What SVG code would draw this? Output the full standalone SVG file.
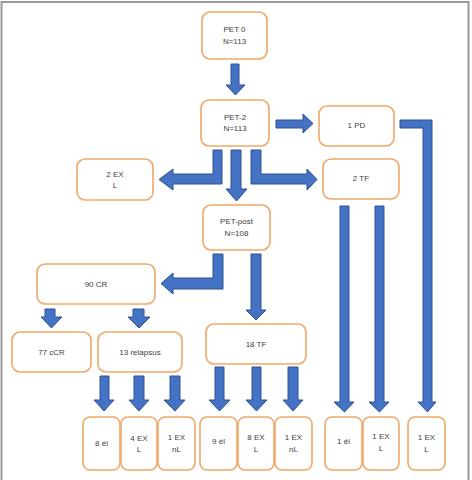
<svg xmlns="http://www.w3.org/2000/svg" width="472" height="480" viewBox="0 0 472 480">
<style>
.box{fill:#fff;stroke:#F0A868;stroke-width:1.6}
.arr{fill:#4472C4;stroke:#2F528F;stroke-width:1;stroke-linejoin:miter}
text{font-family:"Liberation Sans","DejaVu Sans",sans-serif;font-size:8px;fill:#404040;text-anchor:middle}
</style>
<rect x="0" y="0" width="472" height="480" fill="#fff"/>
<rect x="1.5" y="2" width="467" height="490" fill="none" stroke="#999" stroke-width="2"/>
<g id="connectors">
<polygon class="arr" points="231,64 239,64 239,85 245,85 235.5,95 226,85 231,85"/>
<polygon class="arr" points="276,120 303,120 303,114 313,123.5 303,133 303,128 276,128"/>
<polygon class="arr" points="400,120 432,120 432,402 436,402 427.5,412 418,402 423,402 423,128 400,128"/>
<polygon class="arr" points="213,150 222,150 222,184 173,184 173,190 159,179.5 173,169 173,174 213,174"/>
<polygon class="arr" points="231,150 241,150 241,189 247,189 236.5,201 226,189 231,189"/>
<polygon class="arr" points="251,150 261,150 261,174 307,174 307,169 317,179.5 307,190 307,184 251,184"/>
<polygon class="arr" points="213,254 223,254 223,289 173,289 173,294 161,283.5 173,273 173,278 213,278"/>
<polygon class="arr" points="251,254 261,254 261,310 266,310 256,320 246,310 251,310"/>
<polygon class="arr" points="340,206 349,206 349,402 354,402 344.5,412 334,402 340,402"/>
<polygon class="arr" points="375,206 384,206 384,402 389,402 379.5,412 369,402 375,402"/>
<polygon class="arr" points="45,309 55,309 55,317 62,317 51.5,328 41,317 45,317"/>
<polygon class="arr" points="133,309 144,309 144,317 150,317 139,328 128,317 133,317"/>
<polygon class="arr" points="100,376 109,376 109,400 114,400 104,411 94,400 100,400"/>
<polygon class="arr" points="134,376 144,376 144,400 149,400 139,411 129,400 134,400"/>
<polygon class="arr" points="170,376 180,376 180,400 185,400 175,411 164,400 170,400"/>
<polygon class="arr" points="215,367 224,367 224,400 230,400 219.5,411 209,400 215,400"/>
<polygon class="arr" points="252,367 261,367 261,400 267,400 256.5,411 246,400 252,400"/>
<polygon class="arr" points="288,367 298,367 298,400 303,400 293,411 283,400 288,400"/>
</g>
<g id="pet0"><rect class="box" x="202" y="12" width="65" height="47" rx="8"/><text x="234.5" y="32">PET 0</text><text x="234.5" y="44">N=113</text></g>
<g id="pet2"><rect class="box" x="201" y="100" width="68" height="46" rx="8"/><text x="235" y="120">PET-2</text><text x="235" y="131">N=113</text></g>
<g id="pd"><rect class="box" x="319" y="106" width="75" height="40" rx="8"/><text x="356.5" y="128">1 PD</text></g>
<g id="exl2"><rect class="box" x="77" y="159" width="76" height="41" rx="8"/><text x="115" y="177">2 EX</text><text x="115" y="188">L</text></g>
<g id="tf2"><rect class="box" x="323" y="159" width="76" height="40" rx="8"/><text x="361" y="181">2 TF</text></g>
<g id="petpost"><rect class="box" x="203" y="205" width="67" height="45" rx="8"/><text x="236.5" y="224">PET-post</text><text x="236.5" y="236">N=108</text></g>
<g id="cr90"><rect class="box" x="37" y="264" width="118" height="40" rx="8"/><text x="96" y="287">90 CR</text></g>
<g id="ccr77"><rect class="box" x="12" y="332" width="79" height="40" rx="8"/><text x="51.5" y="355">77 cCR</text></g>
<g id="relapsus"><rect class="box" x="98" y="332" width="84" height="40" rx="8"/><text x="140" y="355">13 relapsus</text></g>
<g id="tf18"><rect class="box" x="206" y="324" width="100" height="40" rx="8"/><text x="256" y="347">18 TF</text></g>
<g id="b1"><rect class="box" x="83" y="417" width="37" height="53" rx="7"/><text x="101.5" y="446">8 él</text></g>
<g id="b2"><rect class="box" x="121" y="417" width="36" height="53" rx="7"/><text x="139" y="441">4 EX</text><text x="139" y="452">L</text></g>
<g id="b3"><rect class="box" x="158" y="417" width="37" height="53" rx="7"/><text x="176.5" y="440">1 EX</text><text x="176.5" y="452">nL</text></g>
<g id="b4"><rect class="box" x="200" y="417" width="37" height="53" rx="7"/><text x="218.5" y="444">9 él</text></g>
<g id="b5"><rect class="box" x="238" y="417" width="36" height="53" rx="7"/><text x="256" y="440">8 EX</text><text x="256" y="452">L</text></g>
<g id="b6"><rect class="box" x="275" y="417" width="37" height="53" rx="7"/><text x="293.5" y="440">1 EX</text><text x="293.5" y="452">nL</text></g>
<g id="b7"><rect class="box" x="325" y="417" width="37" height="53" rx="7"/><text x="343.5" y="444">1 él</text></g>
<g id="b8"><rect class="box" x="363" y="417" width="36" height="53" rx="7"/><text x="381" y="439">1 EX</text><text x="381" y="451">L</text></g>
<g id="b9"><rect class="box" x="408" y="417" width="37" height="53" rx="7"/><text x="426.5" y="440">1 EX</text><text x="426.5" y="452">L</text></g>
</svg>
